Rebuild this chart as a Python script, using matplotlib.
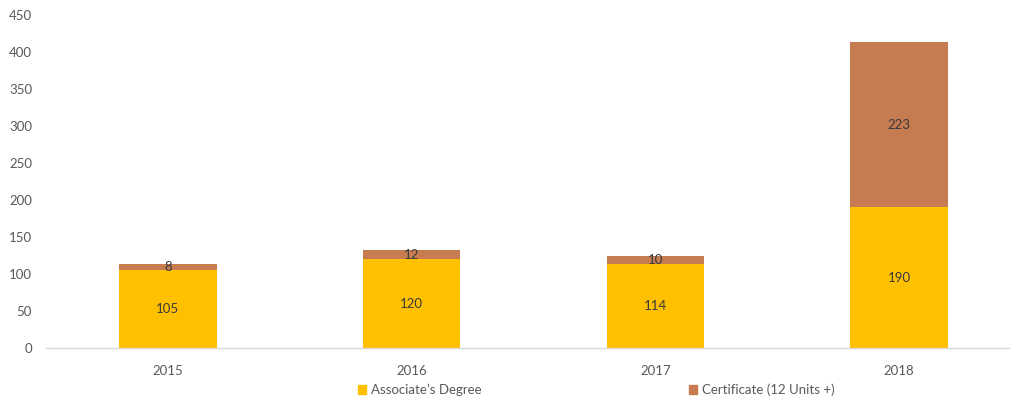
import matplotlib
matplotlib.use("Agg")
import numpy as np
from matplotlib import pyplot as plt
from matplotlib.patches import Patch

# ------------------------------------------------------------------------------
# Awards by year
# ------------------------------------------------------------------------------
years = ["2015", "2016", "2017", "2018"]
associate = [105, 120, 114, 190]
certificate = [8, 12, 10, 223]

yellow = "#FFC000"
brown = "#C67B50"
grey = "#595959"

plt.rcParams["font.family"] = ["Lato", "DejaVu Sans"]

fig = plt.figure(figsize=(10.10, 4.03), dpi=100)
ax = fig.add_axes([0.0455, 0.1365, 0.9653, 0.8263])

x = np.arange(len(years))
w = 0.4
b1 = ax.bar(x, associate, w, color=yellow, label="Associate\u2019s Degree")
b2 = ax.bar(x, certificate, w, bottom=associate, color=brown,
            label="Certificate (12 Units +)")

# segment labels
for xi, a, c in zip(x, associate, certificate):
    ax.text(xi, a / 2.0, str(a), ha="center", va="center",
            fontsize=9.5, color="#3A3A3A")
    ax.text(xi, a + c / 2.0, str(c), ha="center", va="center",
            fontsize=9.5, color="#3A3A3A")

ax.set_xlim(-0.5, 3.5)
ax.set_ylim(0, 450)
ax.set_yticks(range(0, 451, 50))
ax.set_xticks(x)
ax.set_xticklabels(years)
ax.tick_params(axis="both", length=0, labelsize=9.5, labelcolor=grey)
ax.tick_params(axis="y", pad=10)
ax.tick_params(axis="x", pad=12)

for side in ["top", "right", "left"]:
    ax.spines[side].set_visible(False)
ax.spines["bottom"].set_color("#D9D9D9")
ax.spines["bottom"].set_linewidth(1.0)

# legend entries, placed separately
for lab, col, xpos in [("Associate\u2019s Degree", yellow, 358),
                       ("Certificate (12 Units +)", brown, 689)]:
    h = Patch(facecolor=col, edgecolor=col)
    lg = fig.legend([h], [lab], loc="center left",
                    bbox_to_anchor=(xpos / 1010.0, 13 / 403.0),
                    frameon=False, fontsize=9.5, handlelength=0.6,
                    handleheight=0.6, handletextpad=0.4, borderpad=0,
                    borderaxespad=0)
    for t in lg.get_texts():
        t.set_color(grey)

fig.savefig("out.png", dpi=100)
